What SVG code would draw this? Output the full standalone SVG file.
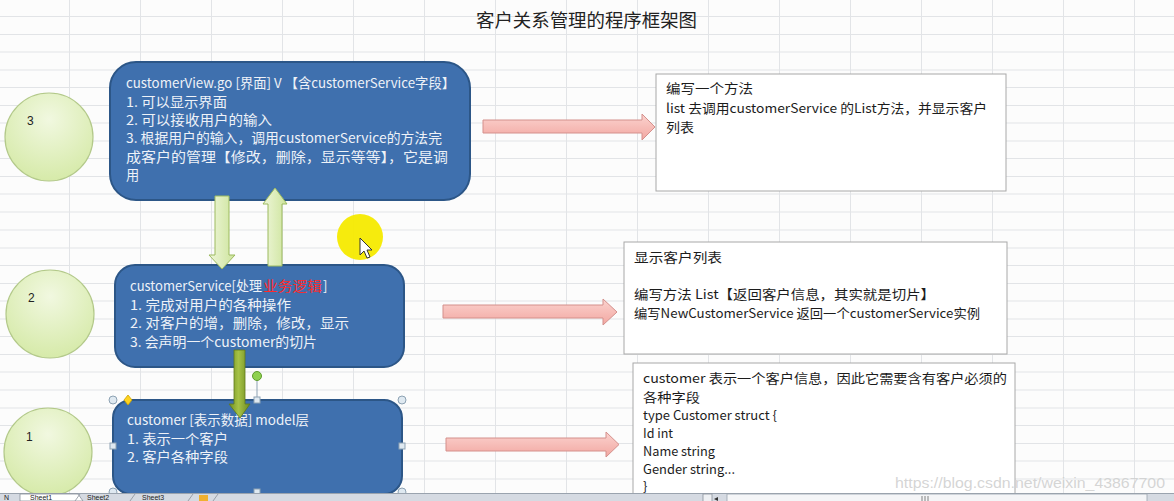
<svg xmlns="http://www.w3.org/2000/svg" width="1174" height="501" viewBox="0 0 1174 501">
<style>
.grid line{stroke:#e2e4e7;stroke-width:1}
.node{fill:#3f70ae;stroke:#2c5687;stroke-width:2}
.nt{font-family:"Noto Sans CJK SC","Noto Sans",sans-serif;font-size:13.2px;fill:#eef2f8}
.bt{font-family:"Noto Sans CJK SC","Noto Sans",sans-serif;font-size:13px;fill:#1c1c1c}
.box{fill:#ffffff;stroke:#a8a8a8;stroke-width:1}
.circ{fill:url(#gCirc);stroke:#b3c98a;stroke-width:1.2}
.num{font-family:"Liberation Sans",sans-serif;font-size:12px;fill:#222}
.pink{fill:url(#gPink);stroke:#d4908c;stroke-width:1}
.lg{fill:url(#gLG);stroke:#9cba5e;stroke-width:1}
.hdl{fill:#dfe9f1;stroke:#8da2b3;stroke-width:1}
.tab{font-family:"Liberation Sans",sans-serif;font-size:7px;fill:#222}
</style>
<defs>
<radialGradient id="gCirc" cx="50%" cy="30%" r="70%">
<stop offset="0" stop-color="#f1f8e0"/>
<stop offset="1" stop-color="#d6eaa9"/>
</radialGradient>
<linearGradient id="gPink" x1="0" y1="0" x2="0" y2="1">
<stop offset="0" stop-color="#fbd3cf"/>
<stop offset="1" stop-color="#f2a7a1"/>
</linearGradient>
<linearGradient id="gLG" x1="0" y1="0" x2="1" y2="0">
<stop offset="0" stop-color="#eef6d9"/>
<stop offset="1" stop-color="#cde49c"/>
</linearGradient>
<linearGradient id="gOl" x1="0" y1="0" x2="1" y2="0">
<stop offset="0" stop-color="#718f22"/>
<stop offset="0.45" stop-color="#a6c246"/>
<stop offset="1" stop-color="#6c8a1f"/>
</linearGradient>
<clipPath id="barClip"><rect x="0" y="493" width="1174" height="8"/></clipPath>
</defs>
<rect x="0" y="0" width="1174" height="501" fill="#fcfcfc"/>
<g class="grid">
<line x1="69.5" y1="0" x2="69.5" y2="493"/><line x1="140.5" y1="0" x2="140.5" y2="493"/><line x1="211.5" y1="0" x2="211.5" y2="493"/><line x1="282.5" y1="0" x2="282.5" y2="493"/><line x1="353.5" y1="0" x2="353.5" y2="493"/><line x1="424.5" y1="0" x2="424.5" y2="493"/><line x1="495.5" y1="0" x2="495.5" y2="493"/><line x1="566.5" y1="0" x2="566.5" y2="493"/><line x1="637.5" y1="0" x2="637.5" y2="493"/><line x1="708.5" y1="0" x2="708.5" y2="493"/><line x1="779.5" y1="0" x2="779.5" y2="493"/><line x1="850.5" y1="0" x2="850.5" y2="493"/><line x1="921.5" y1="0" x2="921.5" y2="493"/><line x1="992.5" y1="0" x2="992.5" y2="493"/><line x1="1063.5" y1="0" x2="1063.5" y2="493"/><line x1="1134.5" y1="0" x2="1134.5" y2="493"/>
<line x1="0" y1="16.5" x2="1174" y2="16.5"/><line x1="0" y1="34.5" x2="1174" y2="34.5"/><line x1="0" y1="52" x2="1174" y2="52"/><line x1="0" y1="70" x2="1174" y2="70"/><line x1="0" y1="87.5" x2="1174" y2="87.5"/><line x1="0" y1="105.5" x2="1174" y2="105.5"/><line x1="0" y1="123" x2="1174" y2="123"/><line x1="0" y1="141" x2="1174" y2="141"/><line x1="0" y1="158.5" x2="1174" y2="158.5"/><line x1="0" y1="176.5" x2="1174" y2="176.5"/><line x1="0" y1="194" x2="1174" y2="194"/><line x1="0" y1="212" x2="1174" y2="212"/><line x1="0" y1="230" x2="1174" y2="230"/><line x1="0" y1="248" x2="1174" y2="248"/><line x1="0" y1="265.5" x2="1174" y2="265.5"/><line x1="0" y1="283.5" x2="1174" y2="283.5"/><line x1="0" y1="301" x2="1174" y2="301"/><line x1="0" y1="319" x2="1174" y2="319"/><line x1="0" y1="336.5" x2="1174" y2="336.5"/><line x1="0" y1="354.5" x2="1174" y2="354.5"/><line x1="0" y1="372" x2="1174" y2="372"/><line x1="0" y1="390" x2="1174" y2="390"/><line x1="0" y1="408" x2="1174" y2="408"/><line x1="0" y1="425.5" x2="1174" y2="425.5"/><line x1="0" y1="443.5" x2="1174" y2="443.5"/><line x1="0" y1="461" x2="1174" y2="461"/><line x1="0" y1="479" x2="1174" y2="479"/>
</g>
<text x="476" y="27" textLength="221" lengthAdjust="spacingAndGlyphs" font-family="Noto Sans CJK SC,Noto Sans,sans-serif" font-size="18" fill="#222">客户关系管理的程序框架图</text>

<g id="circle3"><circle class="circ" cx="49" cy="137" r="44"/><text class="num" x="27" y="125">3</text></g>
<g id="circle2"><circle class="circ" cx="50" cy="314" r="44"/><text class="num" x="28" y="302">2</text></g>
<g id="circle1"><circle class="circ" cx="48" cy="452" r="44"/><text class="num" x="26" y="441">1</text></g>

<g id="customerView">
<rect class="node" x="110" y="62" width="360" height="138" rx="26"/>
<text class="nt" x="126" y="88" textLength="329" lengthAdjust="spacingAndGlyphs">customerView.go [界面]  V  【含customerService字段】</text>
<text class="nt" x="126" y="106.5" textLength="101" lengthAdjust="spacingAndGlyphs">1. 可以显示界面</text>
<text class="nt" x="126" y="125" textLength="146" lengthAdjust="spacingAndGlyphs">2. 可以接收用户的输入</text>
<text class="nt" x="126" y="143" textLength="316" lengthAdjust="spacingAndGlyphs">3. 根据用户的输入，调用customerService的方法完</text>
<text class="nt" x="126" y="161.5" textLength="322" lengthAdjust="spacingAndGlyphs">成客户的管理【修改，删除，显示等等】，它是调</text>
<text class="nt" x="126" y="180">用</text>
</g>

<g id="customerService">
<rect class="node" x="115" y="265" width="289" height="102" rx="20"/>
<text class="nt" x="130" y="291" textLength="132" lengthAdjust="spacingAndGlyphs">customerService[处理</text>
<text class="nt" x="263" y="291" textLength="59" lengthAdjust="spacingAndGlyphs" style="fill:#ff2a2a">业务逻辑</text>
<text class="nt" x="323" y="291">]</text>
<text class="nt" x="130" y="309.5" textLength="161" lengthAdjust="spacingAndGlyphs">1. 完成对用户的各种操作</text>
<text class="nt" x="130" y="328" textLength="219" lengthAdjust="spacingAndGlyphs">2. 对客户的增，删除，修改，显示</text>
<text class="nt" x="130" y="346.5" textLength="187" lengthAdjust="spacingAndGlyphs">3. 会声明一个customer的切片</text>
</g>

<g id="customer">
<rect class="node" x="113" y="400" width="289" height="94" rx="18"/>
<text class="nt" x="127" y="425" textLength="182" lengthAdjust="spacingAndGlyphs">customer [表示数据] model层</text>
<text class="nt" x="127" y="443.5" textLength="101" lengthAdjust="spacingAndGlyphs">1. 表示一个客户</text>
<text class="nt" x="127" y="462" textLength="101" lengthAdjust="spacingAndGlyphs">2. 客户各种字段</text>
</g>

<g id="noteView">
<rect class="box" x="656" y="74" width="350" height="117"/>
<text class="bt" x="666" y="93" textLength="87" lengthAdjust="spacingAndGlyphs">编写一个方法</text>
<text class="bt" x="666" y="112.5" textLength="321" lengthAdjust="spacingAndGlyphs">list 去调用customerService 的List方法，并显示客户</text>
<text class="bt" x="666" y="132" textLength="28" lengthAdjust="spacingAndGlyphs">列表</text>
</g>

<g id="noteService">
<rect class="box" x="624" y="242" width="383" height="112"/>
<text class="bt" x="634" y="262" textLength="88" lengthAdjust="spacingAndGlyphs">显示客户列表</text>
<text class="bt" x="634" y="299" textLength="301" lengthAdjust="spacingAndGlyphs">编写方法 List【返回客户信息，其实就是切片】</text>
<text class="bt" x="634" y="317.5" textLength="346" lengthAdjust="spacingAndGlyphs">编写NewCustomerService 返回一个customerService实例</text>
</g>

<g id="noteModel">
<rect class="box" x="633" y="363" width="382" height="140"/>
<text class="bt" x="643" y="383" textLength="364" lengthAdjust="spacingAndGlyphs">customer 表示一个客户信息，因此它需要含有客户必须的</text>
<text class="bt" x="643" y="402" textLength="57" lengthAdjust="spacingAndGlyphs">各种字段</text>
<text class="bt" x="643" y="420" textLength="134" lengthAdjust="spacingAndGlyphs">type  Customer struct {</text>
<text class="bt" x="643" y="438" textLength="30" lengthAdjust="spacingAndGlyphs">Id int</text>
<text class="bt" x="643" y="456" textLength="72" lengthAdjust="spacingAndGlyphs">Name string</text>
<text class="bt" x="643" y="474" textLength="92" lengthAdjust="spacingAndGlyphs">Gender string...</text>
<text class="bt" x="643" y="491">}</text>
</g>

<g id="connectors">
<path class="lg" d="M215,196 H229 V255 H235 L222,269 L209,255 H215 Z"/>
<path class="lg" d="M275,188 L287,204 H282 V266 H268 V204 H263 Z"/>
<path fill="url(#gOl)" stroke="#5f7a1a" stroke-width="0.8" d="M234,350 H245 V404 H250 L240,418 L229,404 H234 Z"/>
<path class="pink" d="M483,120 H642 V114 L655,127 L642,140 V133 H483 Z"/>
<path class="pink" d="M443,305 H603 V299 L617,312 L603,325 V318 H443 Z"/>
<path class="pink" d="M446,438 H606 V432 L619,444.5 L606,457 V451 H446 Z"/>
</g>

<g id="selection">
<line x1="257" y1="380" x2="257" y2="400" stroke="#8da2b3" stroke-width="1"/>
<circle cx="257" cy="376" r="4.5" fill="#8fd14f" stroke="#5d9b2c" stroke-width="1"/>
<circle class="hdl" cx="113" cy="400" r="4"/><circle class="hdl" cx="402" cy="400" r="4"/>
<circle class="hdl" cx="113" cy="492" r="4"/><circle class="hdl" cx="402" cy="492" r="4"/>
<rect class="hdl" x="254" y="397" width="6" height="6"/><rect class="hdl" x="110" y="443" width="6" height="6"/>
<rect class="hdl" x="399" y="443" width="6" height="6"/><rect class="hdl" x="254" y="489" width="6" height="6"/>
<path d="M128,395 L132,400 L128,405 L124,400 Z" fill="#ffd21f" stroke="#c9a200" stroke-width="0.8"/>
</g>

<g id="pointer">
<circle cx="360" cy="237" r="23" fill="#f6ea00" opacity="0.95"/>
<path d="M360,238 V255 L364,251 L367,258 L370,257 L367,250 L372,250 Z" fill="#ffffff" stroke="#333" stroke-width="1"/>
</g>

<text x="895" y="488" textLength="270" lengthAdjust="spacingAndGlyphs" font-family="Liberation Sans,sans-serif" font-size="14.5" fill="#d0d0d0" fill-opacity="0.9">https://blog.csdn.net/weixin_43867700</text>

<g id="sheetbar">
<rect x="0" y="493" width="1174" height="8" fill="#d5dae2"/>
<line x1="0" y1="493.5" x2="1174" y2="493.5" stroke="#9aa3ae" stroke-width="1"/>
<g clip-path="url(#barClip)">
<path d="M20,494 H78 L83,501 H20 Z" fill="#ffffff" stroke="#8a929c" stroke-width="0.8"/>
<path d="M80,494 L75,501" stroke="#8a929c" stroke-width="0.8"/>
<path d="M135,494 L130,501" stroke="#8a929c" stroke-width="0.8"/>
<path d="M193,494 L188,501" stroke="#8a929c" stroke-width="0.8"/>
<rect x="199" y="495" width="9" height="7" fill="#f0b030"/>
<path d="M218,494 L213,501" stroke="#8a929c" stroke-width="0.8"/>
<rect x="703" y="494" width="9" height="8" fill="#eef0f3" stroke="#8a929c" stroke-width="0.8"/>
<path d="M718,497 L714,499 L718,501 Z" fill="#333"/>
<rect x="727" y="494" width="420" height="8" fill="#f4f5f7" stroke="#9aa3ae" stroke-width="0.8"/>
<path d="M922,496 V501 M925,496 V501 M928,496 V501" stroke="#666" stroke-width="0.8"/>
</g>
<text class="tab" x="4" y="500">N</text>
<text class="tab" x="30" y="500">Sheet1</text>
<text class="tab" x="87" y="500">Sheet2</text>
<text class="tab" x="142" y="500">Sheet3</text>
</g>
</svg>
